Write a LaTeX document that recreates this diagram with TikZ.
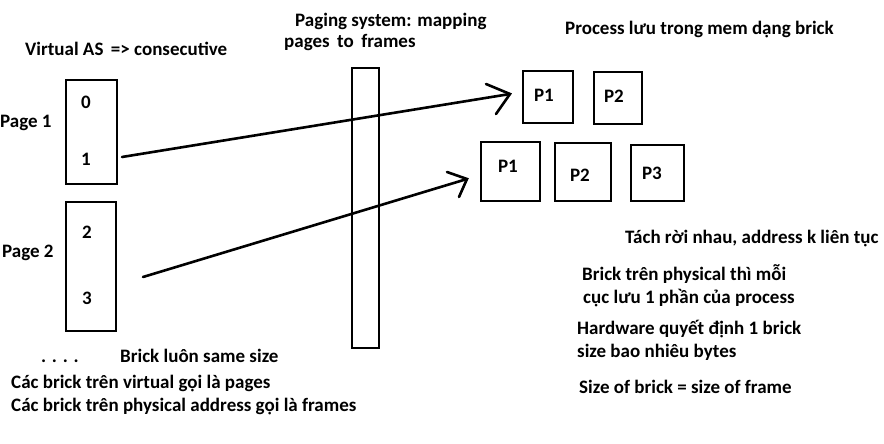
\documentclass[tikz,border=0pt]{standalone}
\usepackage{fontspec}
\setmainfont{Carlito}
\begin{document}
\begin{tikzpicture}[x=1pt,y=-1pt,
  lbl/.style={font=\bfseries\fontsize{19}{22}\selectfont, inner sep=0pt, anchor=west},
  box/.style={draw, line width=2.8pt, inner sep=0pt},
  con/.style={line width=2.6pt, line cap=round}]
\useasboundingbox (0,0) rectangle (884,444);
% titles
\node[lbl] (tva) at (25,49) {Virtual AS \,=> consecutive};
\node[lbl] (tps1) at (295,21) {Paging system: mapping};
\node[lbl] (tps2) at (284,43) {pages \,to \,frames};
\node[lbl] (tpr) at (565,30) {Process lưu trong mem dạng brick};
% virtual boxes
\node[box, minimum width=51pt, minimum height=104pt] (vb1) at (91.5,132) {};
\node[box, minimum width=50pt, minimum height=129pt] (vb2) at (91,266.5) {};
\node[lbl, anchor=center] (d0) at (86,102) {0};
\node[lbl, anchor=center] (d1) at (86,159) {1};
\node[lbl, anchor=center] (d2) at (87,232) {2};
\node[lbl, anchor=center] (d3) at (87,298) {3};
\node[lbl] (pg1) at (0,123) {Page 1};
\node[lbl] (pg2) at (2,253) {Page 2};
% paging bar
\node[box, minimum width=27pt, minimum height=280pt] (bar) at (365.5,208) {};
% physical boxes
\node[box, minimum width=50pt, minimum height=52pt] (tp1) at (548,97) {};
\node[box, minimum width=48pt, minimum height=52pt] (tp2) at (618,98) {};
\node[box, minimum width=59pt, minimum height=59pt] (bp1) at (510.5,171.5) {};
\node[box, minimum width=56pt, minimum height=58pt] (bp2) at (583,172) {};
\node[box, minimum width=53pt, minimum height=56pt] (bp3) at (657.5,173) {};
\node[lbl, anchor=center] (tp1t) at (544,95) {P1};
\node[lbl, anchor=center] (tp2t) at (614,96) {P2};
\node[lbl, anchor=center] (bp1t) at (508,166) {P1};
\node[lbl, anchor=center] (bp2t) at (580,175) {P2};
\node[lbl, anchor=center] (bp3t) at (652,173) {P3};
% arrows
\coordinate (a1s) at (122,157);
\coordinate (a1t) at (510,94);
\coordinate (a1u) at (486,84);
\coordinate (a1d) at (496,114);
\draw[con] (a1s) -- (a1t);
\draw[con] (a1u) -- (a1t) -- (a1d);
\coordinate (a2s) at (143,277);
\coordinate (a2t) at (467,179);
\coordinate (a2u) at (447,172);
\coordinate (a2d) at (459,197);
\draw[con] (a2s) -- (a2t);
\draw[con] (a2u) -- (a2t) -- (a2d);
% right texts
\node[lbl] (r1) at (625,239) {Tách rời nhau, address k liên tục};
\node[lbl] (r2) at (582,274) {Brick trên physical thì mỗi};
\node[lbl] (r3) at (583,298) {cục lưu 1 phần của process};
\node[lbl] (r4) at (577,329) {Hardware quyết định 1 brick};
\node[lbl] (r5) at (577,352) {size bao nhiêu bytes};
\node[lbl] (r6) at (579,387) {Size of brick = size of frame};
% bottom-left texts
\node[lbl] (dots) at (41,361) {. . . .};
\node[lbl] (bl1) at (120,356) {Brick luôn same size};
\node[lbl] (bl2) at (11,384) {Các brick trên virtual gọi là pages};
\node[lbl] (bl3) at (11,407) {Các brick trên physical address gọi là frames};
\end{tikzpicture}
\end{document}
